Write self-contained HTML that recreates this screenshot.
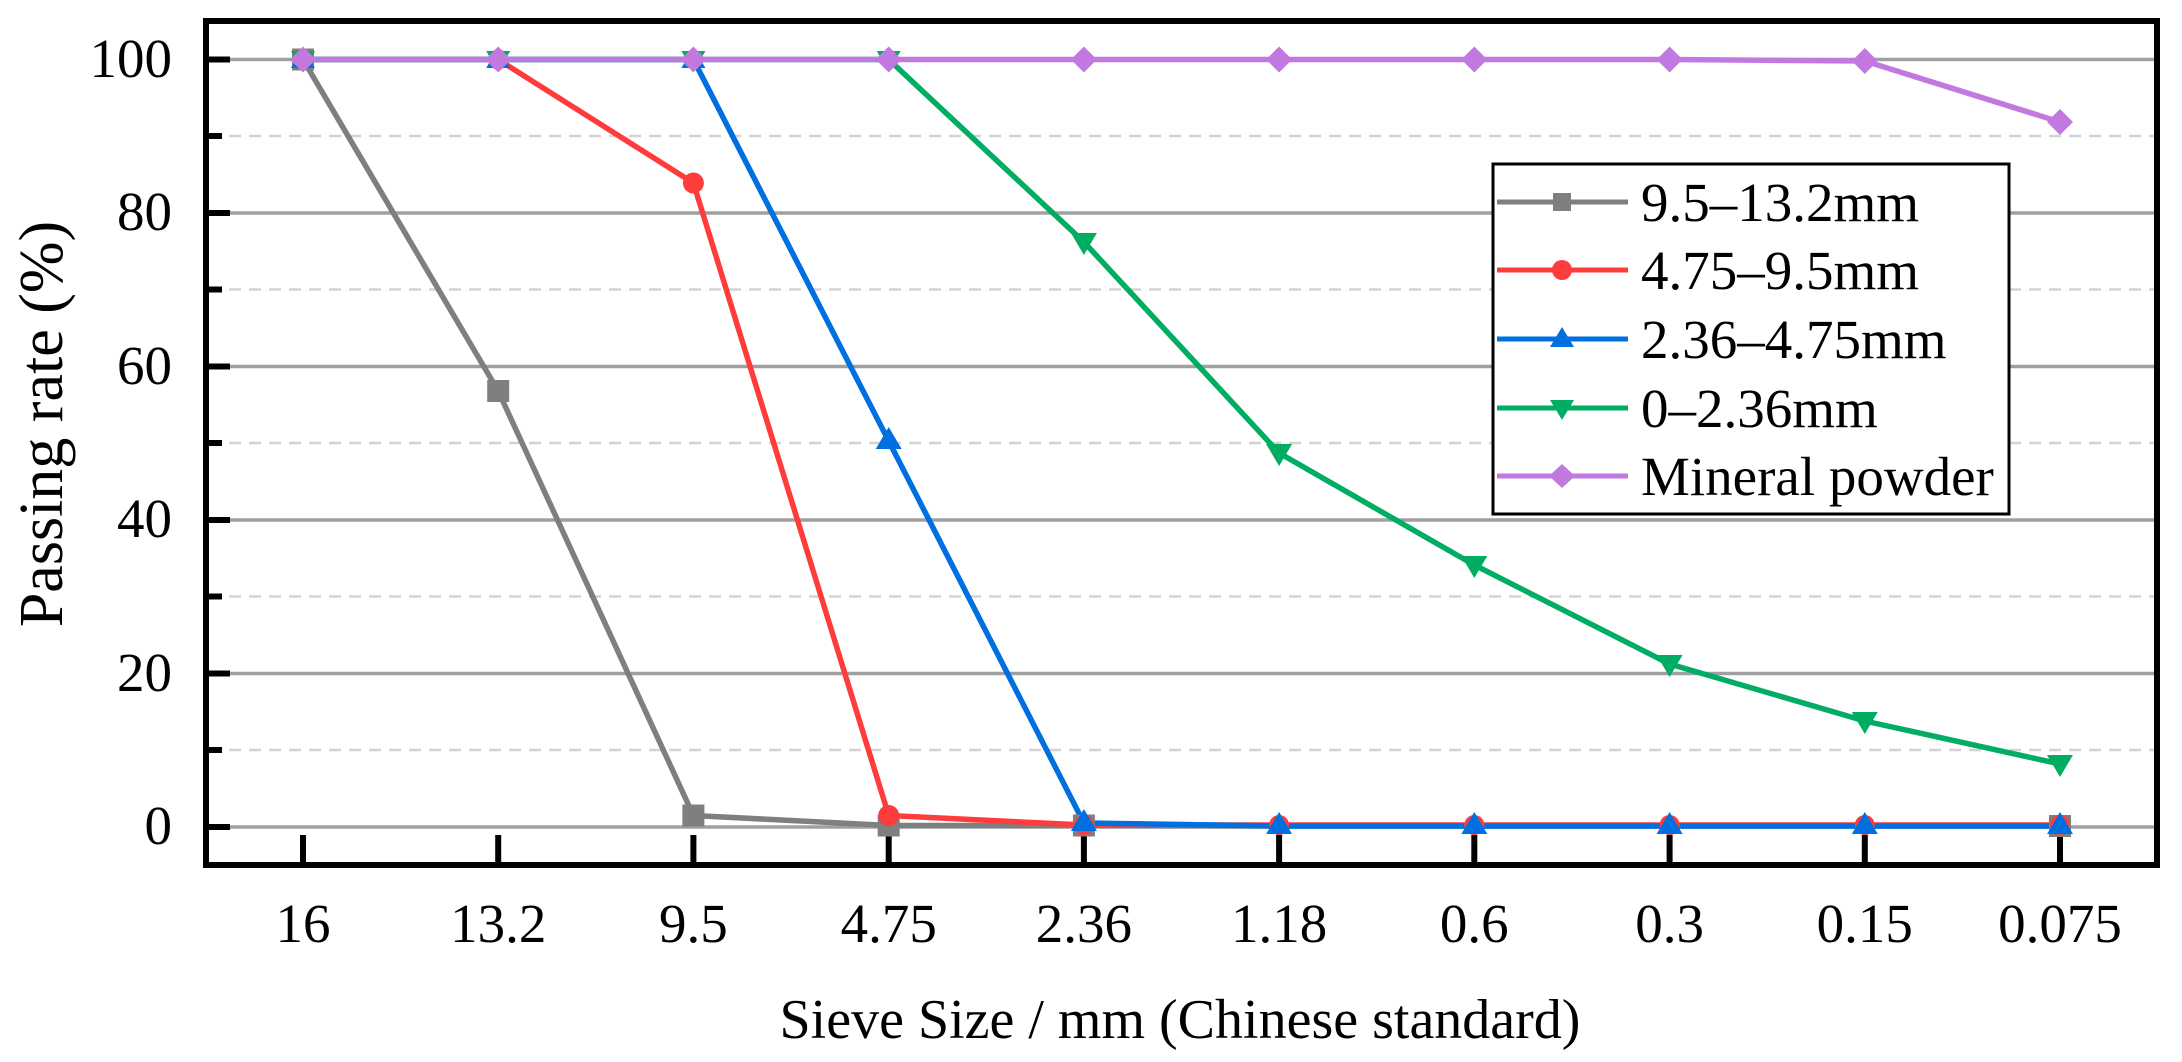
<!DOCTYPE html>
<html><head><meta charset="utf-8"><style>
html,body{margin:0;padding:0;background:#fff;}
svg{display:block;}
text{font-family:"Liberation Serif",serif;fill:#000;}
</style></head><body>
<svg width="2182" height="1062" viewBox="0 0 2182 1062" xmlns="http://www.w3.org/2000/svg">
<rect width="2182" height="1062" fill="#fff"/>
<g stroke="#d3d3d3" stroke-width="2.5" stroke-dasharray="12,8">
<line x1="209" x2="2154" y1="136" y2="136"/>
<line x1="209" x2="2154" y1="289.5" y2="289.5"/>
<line x1="209" x2="2154" y1="443" y2="443"/>
<line x1="209" x2="2154" y1="596.5" y2="596.5"/>
<line x1="209" x2="2154" y1="750" y2="750"/>
</g>
<g stroke="#a0a0a0" stroke-width="3.5">
<line x1="209" x2="2154" y1="59.5" y2="59.5"/>
<line x1="209" x2="2154" y1="213" y2="213"/>
<line x1="209" x2="2154" y1="366.5" y2="366.5"/>
<line x1="209" x2="2154" y1="520" y2="520"/>
<line x1="209" x2="2154" y1="673.5" y2="673.5"/>
<line x1="209" x2="2154" y1="827" y2="827"/>
</g>
<g stroke="#000" stroke-width="6">
<line x1="206" x2="230" y1="59.5" y2="59.5"/>
<line x1="206" x2="230" y1="213" y2="213"/>
<line x1="206" x2="230" y1="366.5" y2="366.5"/>
<line x1="206" x2="230" y1="520" y2="520"/>
<line x1="206" x2="230" y1="673.5" y2="673.5"/>
<line x1="206" x2="230" y1="827" y2="827"/>
<line x1="206" x2="222" y1="136" y2="136"/>
<line x1="206" x2="222" y1="289.5" y2="289.5"/>
<line x1="206" x2="222" y1="443" y2="443"/>
<line x1="206" x2="222" y1="596.5" y2="596.5"/>
<line x1="206" x2="222" y1="750" y2="750"/>
<line x1="303" x2="303" y1="865" y2="835"/>
<line x1="498.2" x2="498.2" y1="865" y2="835"/>
<line x1="693.4" x2="693.4" y1="865" y2="835"/>
<line x1="888.7" x2="888.7" y1="865" y2="835"/>
<line x1="1083.9" x2="1083.9" y1="865" y2="835"/>
<line x1="1279.1" x2="1279.1" y1="865" y2="835"/>
<line x1="1474.3" x2="1474.3" y1="865" y2="835"/>
<line x1="1669.6" x2="1669.6" y1="865" y2="835"/>
<line x1="1864.8" x2="1864.8" y1="865" y2="835"/>
<line x1="2060" x2="2060" y1="865" y2="835"/>
</g>
<g fill="none" stroke-width="5.5" stroke-linejoin="round">
<polyline stroke="#7f7f7f" points="303,59.5 498.2,391 693.4,815.5 888.7,825.5 1083.9,825.5 1279.1,826 1474.3,826 1669.6,826 1864.8,826 2060,826"/>
<polyline stroke="#ff3c3c" points="303,59.5 498.2,59.5 693.4,183 888.7,815.5 1083.9,825 1279.1,825 1474.3,825 1669.6,825 1864.8,825 2060,825"/>
<polyline stroke="#006fe0" points="303,59.5 498.2,59.5 693.4,59.5 888.7,441 1083.9,823 1279.1,826 1474.3,826 1669.6,826 1864.8,826 2060,826"/>
<polyline stroke="#00ad62" points="303,59.5 498.2,59.5 693.4,59.5 888.7,59.5 1083.9,242 1279.1,453 1474.3,565 1669.6,664 1864.8,721 2060,764"/>
<polyline stroke="#c179e0" points="303,59.5 498.2,59.5 693.4,59.5 888.7,59.5 1083.9,59.5 1279.1,59.5 1474.3,59.5 1669.6,59.5 1864.8,61 2060,122"/>
</g>
<g fill="#7f7f7f">
<rect x="292" y="48.5" width="22" height="22"/><rect x="487.2" y="380" width="22" height="22"/><rect x="682.4" y="804.5" width="22" height="22"/><rect x="877.7" y="814.5" width="22" height="22"/><rect x="1072.9" y="814.5" width="22" height="22"/><rect x="2049" y="815" width="22" height="22"/>
</g>
<g fill="#ff3c3c">
<circle cx="303" cy="59.5" r="10"/><circle cx="498.2" cy="59.5" r="10"/><circle cx="693.4" cy="183" r="10.5"/><circle cx="888.7" cy="815.5" r="10.5"/><circle cx="1083.9" cy="825" r="10"/><circle cx="1279.1" cy="825" r="10"/><circle cx="1474.3" cy="825" r="10"/><circle cx="1669.6" cy="825" r="10"/><circle cx="1864.8" cy="825" r="10"/><circle cx="2060" cy="825" r="10"/>
</g>
<g fill="#006fe0">
<path d="M303,47 l12,21 h-24z M498.2,47 l12,21 h-24z M693.4,47 l12,21 h-24z M888.7,427 l13,22 h-26z M1083.9,809 l13,22 h-26z M1279.1,812 l13,22 h-26z M1474.3,812 l13,22 h-26z M1669.6,812 l13,22 h-26z M1864.8,812 l13,22 h-26z M2060,812 l13,22 h-26z"/>
</g>
<g fill="#00ad62">
<path d="M303,72 l12,-21 h-24z M498.2,72 l12,-21 h-24z M693.4,72 l12,-21 h-24z M888.7,72 l12,-21 h-24z M1083.9,255 l13,-22 h-26z M1279.1,466 l13,-22 h-26z M1474.3,578 l13,-22 h-26z M1669.6,677 l13,-22 h-26z M1864.8,734 l13,-22 h-26z M2060,777 l13,-22 h-26z"/>
</g>
<g fill="#c179e0">
<path d="M303,46.5 l13,13 l-13,13 l-13,-13z M498.2,46.5 l13,13 l-13,13 l-13,-13z M693.4,46.5 l13,13 l-13,13 l-13,-13z M888.7,46.5 l13,13 l-13,13 l-13,-13z M1083.9,46.5 l13,13 l-13,13 l-13,-13z M1279.1,46.5 l13,13 l-13,13 l-13,-13z M1474.3,46.5 l13,13 l-13,13 l-13,-13z M1669.6,46.5 l13,13 l-13,13 l-13,-13z M1864.8,48 l13,13 l-13,13 l-13,-13z M2060,109 l13,13 l-13,13 l-13,-13z"/>
</g>
<rect x="206" y="21" width="1951" height="844" fill="none" stroke="#000" stroke-width="6"/>
<g font-size="55" text-anchor="end">
<text x="172" y="77">100</text>
<text x="172" y="230">80</text>
<text x="172" y="384">60</text>
<text x="172" y="537">40</text>
<text x="172" y="691">20</text>
<text x="172" y="844">0</text>
</g>
<g font-size="55" text-anchor="middle">
<text x="303" y="942">16</text>
<text x="498.2" y="942">13.2</text>
<text x="693.4" y="942">9.5</text>
<text x="888.7" y="942">4.75</text>
<text x="1083.9" y="942">2.36</text>
<text x="1279.1" y="942">1.18</text>
<text x="1474.3" y="942">0.6</text>
<text x="1669.6" y="942">0.3</text>
<text x="1864.8" y="942">0.15</text>
<text x="2060" y="942">0.075</text>
</g>
<text x="1180" y="1038" font-size="56" text-anchor="middle">Sieve Size / mm (Chinese standard)</text>
<text transform="translate(62,424) rotate(-90)" font-size="62" text-anchor="middle">Passing rate (%)</text>
<rect x="1493" y="164" width="516" height="350" fill="#fff" stroke="#000" stroke-width="3"/>
<g stroke-width="5">
<line x1="1497" x2="1628" y1="202" y2="202" stroke="#7f7f7f"/>
<line x1="1497" x2="1628" y1="270" y2="270" stroke="#ff3c3c"/>
<line x1="1497" x2="1628" y1="339" y2="339" stroke="#006fe0"/>
<line x1="1497" x2="1628" y1="408" y2="408" stroke="#00ad62"/>
<line x1="1497" x2="1628" y1="476" y2="476" stroke="#c179e0"/>
</g>
<rect x="1553" y="193" width="18" height="18" fill="#7f7f7f"/>
<circle cx="1562" cy="270" r="10" fill="#ff3c3c"/>
<path d="M1562,327 l12,20 h-24z" fill="#006fe0"/>
<path d="M1562,420 l12,-20 h-24z" fill="#00ad62"/>
<path d="M1562,464 l13,12 l-13,12 l-13,-12z" fill="#c179e0"/>
<g font-size="55">
<text x="1641" y="221">9.5–13.2mm</text>
<text x="1641" y="289">4.75–9.5mm</text>
<text x="1641" y="358">2.36–4.75mm</text>
<text x="1641" y="427">0–2.36mm</text>
<text x="1641" y="495">Mineral powder</text>
</g>
</svg>
</body></html>
